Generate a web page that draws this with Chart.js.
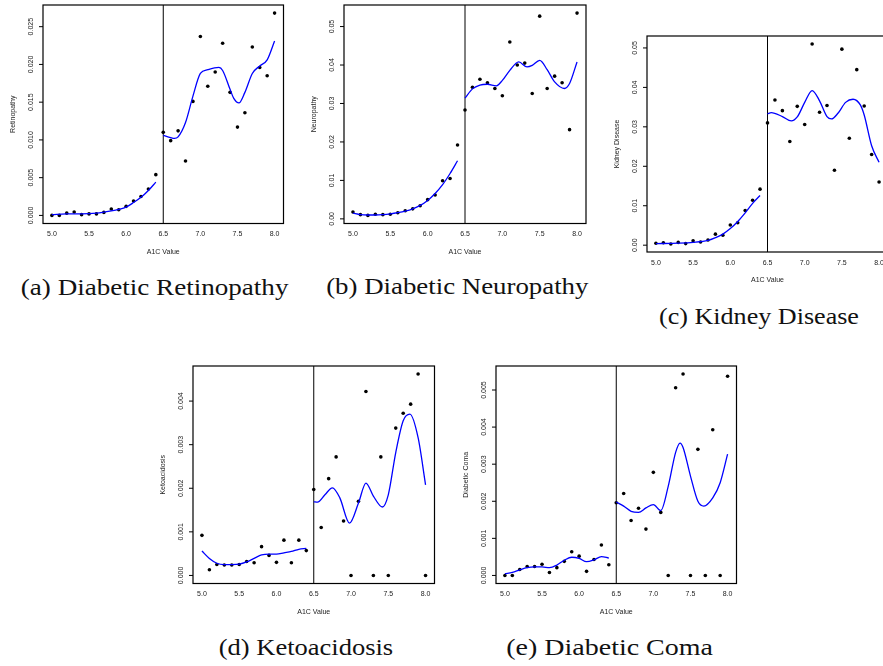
<!DOCTYPE html>
<html>
<head>
<meta charset="utf-8">
<script src="https://cdn.jsdelivr.net/npm/chart.js@4"></script>
<style>
html,body{margin:0;padding:0;background:#fff;overflow:hidden;width:883px;height:666px;}
.panel{position:absolute;}
.cap{position:absolute;white-space:nowrap;font-family:"Liberation Serif","Times New Roman",serif;font-size:24px;line-height:1;color:#111;transform-origin:50% 0;}
</style>
</head>
<body>
<script>
// ---------------- data ----------------
const A1C = [5.0,5.1,5.2,5.3,5.4,5.5,5.6,5.7,5.8,5.9,6.0,6.1,6.2,6.3,6.4,6.5,6.6,6.7,6.8,6.9,7.0,7.1,7.2,7.3,7.4,7.5,7.6,7.7,7.8,7.9,8.0];
const CUTOFF = 6.5;
const xTicks = [5.0,5.5,6.0,6.5,7.0,7.5,8.0];
const xTickLabels = ["5.0","5.5","6.0","6.5","7.0","7.5","8.0"];
const xTitle = "A1C Value";

// Retinopathy
const retinoPts = [0.0000,0.0000,0.0003,0.00045,0.0001,0.0002,0.0002,0.0004,0.00085,0.00075,0.0012,0.0019,0.0025,0.0035,0.0054,0.0110,0.0099,0.0112,0.0072,0.0151,0.0237,0.0171,0.0190,0.0228,0.0163,0.0117,0.0136,0.0223,0.0196,0.0185,0.0268];
const retinoLoX = [5.0,5.2,5.4,5.6,5.8,5.9,6.0,6.1,6.2,6.3,6.4];
const retinoLoY = [0.0001,0.0002,0.0002,0.0003,0.0006,0.0008,0.0011,0.0017,0.0024,0.0033,0.0044];
const retinoHiX = [6.5,6.6,6.65,6.7,6.8,6.9,7.0,7.1,7.25,7.3,7.4,7.45,7.52,7.6,7.7,7.8,7.9,8.0];
const retinoHiY = [0.0106,0.0103,0.0102,0.0104,0.0123,0.0158,0.0188,0.0193,0.0196,0.0192,0.0167,0.0155,0.0149,0.0163,0.0188,0.0198,0.0206,0.0231];
const retinoYTicks = [0,0.005,0.010,0.015,0.020,0.025];
const retinoYLabels = ["0.000","0.005","0.010","0.015","0.020","0.025"];

// Neuropathy
const neuroPts = [0.0018,0.0011,0.0009,0.0012,0.0011,0.0012,0.0016,0.0021,0.0026,0.0034,0.0050,0.0062,0.0099,0.0105,0.0192,0.0283,0.0342,0.0363,0.0354,0.0339,0.0320,0.0460,0.0400,0.0405,0.0326,0.0527,0.0339,0.0371,0.0354,0.0232,0.0535];
const neuroLoX = [5.0,5.1,5.2,5.3,5.4,5.5,5.6,5.7,5.8,5.9,6.0,6.1,6.2,6.3,6.4];
const neuroLoY = [0.0015,0.0011,0.0010,0.0010,0.0011,0.0013,0.0016,0.0020,0.0026,0.0035,0.0048,0.0066,0.0089,0.0118,0.0151];
const neuroHiX = [6.5,6.6,6.7,6.8,6.92,7.0,7.1,7.22,7.33,7.4,7.5,7.6,7.7,7.83,7.9,8.0];
const neuroHiY = [0.0314,0.0338,0.0348,0.0350,0.0346,0.0360,0.0386,0.0408,0.0395,0.0399,0.0412,0.0388,0.0356,0.0339,0.0352,0.0408];
const neuroYTicks = [0,0.01,0.02,0.03,0.04,0.05];
const neuroYLabels = ["0.00","0.01","0.02","0.03","0.04","0.05"];

// Kidney disease
const kidneyPts = [0.0005,0.0006,0.0003,0.0007,0.0004,0.0011,0.0008,0.0013,0.0028,0.0025,0.0051,0.0057,0.0088,0.0114,0.0142,0.0310,0.0368,0.0341,0.0263,0.0352,0.0306,0.0510,0.0337,0.0354,0.0190,0.0497,0.0271,0.0445,0.0353,0.0230,0.0160];
const kidneyLoX = [5.0,5.3,5.5,5.7,5.8,5.9,6.0,6.1,6.2,6.3,6.4];
const kidneyLoY = [0.0004,0.0005,0.0007,0.0012,0.0019,0.0028,0.0042,0.0060,0.0082,0.0106,0.0126];
const kidneyHiX = [6.5,6.55,6.7,6.82,6.9,7.0,7.1,7.2,7.3,7.36,7.45,7.55,7.65,7.75,7.8,7.9,8.0];
const kidneyHiY = [0.0333,0.0336,0.0326,0.0315,0.0325,0.0362,0.0392,0.0366,0.0326,0.0320,0.0335,0.0362,0.0370,0.0355,0.0330,0.0252,0.0210];
const kidneyYTicks = [0,0.01,0.02,0.03,0.04,0.05];
const kidneyYLabels = ["0.00","0.01","0.02","0.03","0.04","0.05"];

// Ketoacidosis
const ketoPts = [0.00092,0.00013,0.00025,0.00024,0.00024,0.00025,0.00032,0.00029,0.00066,0.00046,0.00030,0.00081,0.00029,0.00081,0.00057,0.00197,0.00110,0.00222,0.00272,0.00125,0,0.00170,0.00422,0,0.00272,0,0.00338,0.00372,0.00393,0.00462,0];
const ketoLoX = [5.0,5.1,5.2,5.3,5.4,5.5,5.6,5.7,5.8,5.9,6.0,6.1,6.2,6.3,6.4];
const ketoLoY = [0.00056,0.00039,0.00028,0.00025,0.00025,0.00026,0.00031,0.00039,0.00047,0.00049,0.00049,0.00052,0.00055,0.00060,0.00062];
const ketoHiX = [6.5,6.55,6.65,6.75,6.85,6.98,7.1,7.2,7.3,7.42,7.5,7.6,7.7,7.79,7.9,8.0];
const ketoHiY = [0.00169,0.00168,0.00185,0.00201,0.00178,0.00120,0.00166,0.00212,0.00182,0.00157,0.00185,0.00282,0.00355,0.00370,0.00316,0.00208];
const ketoYTicks = [0,0.001,0.002,0.003,0.004];
const ketoYLabels = ["0.000","0.001","0.002","0.003","0.004"];

// Diabetic coma
const comaPts = [0,0,0.00016,0.00024,0.00024,0.00030,0.00008,0.00021,0.00038,0.00064,0.00052,0.00011,0.00043,0.00082,0.00029,0.00196,0.00221,0.00148,0.00181,0.00125,0.00278,0.00170,0,0.00506,0.00543,0,0.00340,0,0.00393,0,0.00537];
const comaLoX = [5.0,5.1,5.2,5.3,5.4,5.5,5.6,5.7,5.8,5.9,6.0,6.1,6.2,6.3,6.4];
const comaLoY = [0.00005,0.00008,0.00015,0.00021,0.00023,0.00023,0.00021,0.00028,0.00041,0.00049,0.00046,0.00037,0.00042,0.00051,0.00047];
const comaHiX = [6.5,6.6,6.7,6.8,6.9,7.0,7.1,7.2,7.3,7.36,7.4,7.5,7.6,7.68,7.8,7.9,8.0];
const comaHiY = [0.00198,0.00187,0.00173,0.00170,0.00182,0.00191,0.00175,0.00240,0.00332,0.00357,0.00345,0.00268,0.00200,0.00187,0.00209,0.00250,0.00327];
const comaYTicks = [0,0.001,0.002,0.003,0.004,0.005];
const comaYLabels = ["0.000","0.001","0.002","0.003","0.004","0.005"];

const yTitles = ["Retinopathy","Neuropathy","Kidney Disease","Ketoacidosis","Diabetic Coma"];
const captions = ["(a) Diabetic Retinopathy","(b) Diabetic Neuropathy","(c) Kidney Disease","(d) Ketoacidosis","(e) Diabetic Coma"];

// ---------------- layout ----------------
const boxes = [
  {left:43,   top:5,   w:240.5, h:218.5},
  {left:344,  top:5,   w:242,   h:218.5},
  {left:646.8,top:36,  w:241,   h:216},
  {left:193.4,top:366, w:241.5, h:217.5},
  {left:496,  top:366, w:240.5, h:217.5}
];
const capPos = [
  {cx:154.5, base:295, w:267.6},
  {cx:457.2, base:294.5, w:262.3},
  {cx:759.3, base:324, w:200},
  {cx:305.5, base:655.5, w:174.4},
  {cx:609.3, base:655.5, w:206.7}
];

const panels = [
  {pts:retinoPts, loX:retinoLoX, loY:retinoLoY, hiX:retinoHiX, hiY:retinoHiY, yt:retinoYTicks, yl:retinoYLabels},
  {pts:neuroPts,  loX:neuroLoX,  loY:neuroLoY,  hiX:neuroHiX,  hiY:neuroHiY,  yt:neuroYTicks,  yl:neuroYLabels},
  {pts:kidneyPts, loX:kidneyLoX, loY:kidneyLoY, hiX:kidneyHiX, hiY:kidneyHiY, yt:kidneyYTicks, yl:kidneyYLabels},
  {pts:ketoPts,   loX:ketoLoX,   loY:ketoLoY,   hiX:ketoHiX,   hiY:ketoHiY,   yt:ketoYTicks,   yl:ketoYLabels},
  {pts:comaPts,   loX:comaLoX,   loY:comaLoY,   hiX:comaHiX,   hiY:comaHiY,   yt:comaYTicks,   yl:comaYLabels}
];

const PAD = {left:48, top:8, right:12, bottom:44};
const SANS = '"Liberation Sans", Arial, sans-serif';

function rRange(vals){ // R-style 4% axis extension
  const lo = Math.min(...vals), hi = Math.max(...vals);
  const e = (hi - lo) * 0.04;
  return [lo - e, hi + e];
}

const framePlugin = {
  id:'frame',
  beforeDatasetsDraw(chart){
    const {ctx, chartArea:a, scales:{x}} = chart;
    const px = x.getPixelForValue(CUTOFF);
    ctx.save();
    ctx.strokeStyle = '#000'; ctx.lineWidth = 1;
    ctx.beginPath(); ctx.moveTo(px, a.top); ctx.lineTo(px, a.bottom); ctx.stroke();
    ctx.restore();
  },
  afterDraw(chart){
    const {ctx, chartArea:a, scales:{x, y}} = chart;
    const p = chart.options.plugins.frame;
    ctx.save();
    ctx.strokeStyle = '#000'; ctx.lineWidth = 1.2;
    ctx.strokeRect(a.left, a.top, a.right - a.left, a.bottom - a.top);
    ctx.fillStyle = '#222';
    ctx.font = '7px ' + SANS;
    // x tick labels
    ctx.textAlign = 'center'; ctx.textBaseline = 'middle';
    xTicks.forEach((v,i)=>{ ctx.fillText(xTickLabels[i], x.getPixelForValue(v), a.bottom + 11); });
    ctx.fillText(xTitle, (a.left + a.right)/2, a.bottom + 28.5);
    // y ticks
    ctx.lineWidth = 1;
    p.yt.forEach((v,i)=>{
      const py = y.getPixelForValue(v);
      ctx.beginPath(); ctx.moveTo(a.left - 4, py); ctx.lineTo(a.left, py); ctx.stroke();
      ctx.save(); ctx.translate(a.left - 12, py); ctx.rotate(-Math.PI/2);
      ctx.fillText(p.yl[i], 0, 0); ctx.restore();
    });
    ctx.save(); ctx.translate(a.left - 30, (a.top + a.bottom)/2); ctx.rotate(-Math.PI/2);
    ctx.fillText(p.title, 0, 0); ctx.restore();
    ctx.restore();
  }
};

panels.forEach((pn, k)=>{
  const b = boxes[k];
  const W = Math.round(b.w + PAD.left + PAD.right), H = Math.round(b.h + PAD.top + PAD.bottom);
  const div = document.createElement('div');
  div.className = 'panel';
  div.style.left = (b.left - PAD.left) + 'px';
  div.style.top = (b.top - PAD.top) + 'px';
  div.style.width = W + 'px'; div.style.height = H + 'px';
  const cv = document.createElement('canvas');
  cv.width = W; cv.height = H;
  cv.style.width = W + 'px'; cv.style.height = H + 'px';
  div.appendChild(cv);
  document.body.appendChild(div);
  const padR = W - PAD.left - b.w, padB = H - PAD.top - b.h;
  const [ymin, ymax] = rRange(pn.pts);
  const [xmin, xmax] = rRange(A1C);
  new Chart(cv, {
    type:'scatter',
    data:{datasets:[
      {data:pn.loX.map((v,i)=>({x:v, y:pn.loY[i]})), showLine:true, borderColor:'#0000ff', borderWidth:1.3, pointRadius:0, cubicInterpolationMode:'monotone', fill:false},
      {data:pn.hiX.map((v,i)=>({x:v, y:pn.hiY[i]})), showLine:true, borderColor:'#0000ff', borderWidth:1.3, pointRadius:0, cubicInterpolationMode:'monotone', fill:false},
      {data:A1C.map((v,i)=>({x:v, y:pn.pts[i]})), showLine:false, pointRadius:1.8, pointBackgroundColor:'#000', pointBorderWidth:0, borderColor:'#000'}
    ]},
    options:{
      animation:false, responsive:false, devicePixelRatio:1,
      layout:{padding:{left:PAD.left, top:PAD.top, right:padR, bottom:padB}},
      plugins:{legend:{display:false}, tooltip:{enabled:false},
        frame:{yt:pn.yt, yl:pn.yl, title:yTitles[k]}},
      scales:{
        x:{type:'linear', min:xmin, max:xmax, display:false},
        y:{type:'linear', min:ymin, max:ymax, display:false}
      }
    },
    plugins:[framePlugin]
  });
});

// captions
captions.forEach((t,k)=>{
  const c = capPos[k];
  const d = document.createElement('div');
  d.className = 'cap';
  d.textContent = t;
  document.body.appendChild(d);
  const w = d.getBoundingClientRect().width;
  const s = c.w / w;
  d.style.left = (c.cx - w/2) + 'px';
  d.style.top = (c.base - 24*0.8375) + 'px';
  d.style.transform = 'scaleX(' + s.toFixed(4) + ')';
});
</script>
</body>
</html>
